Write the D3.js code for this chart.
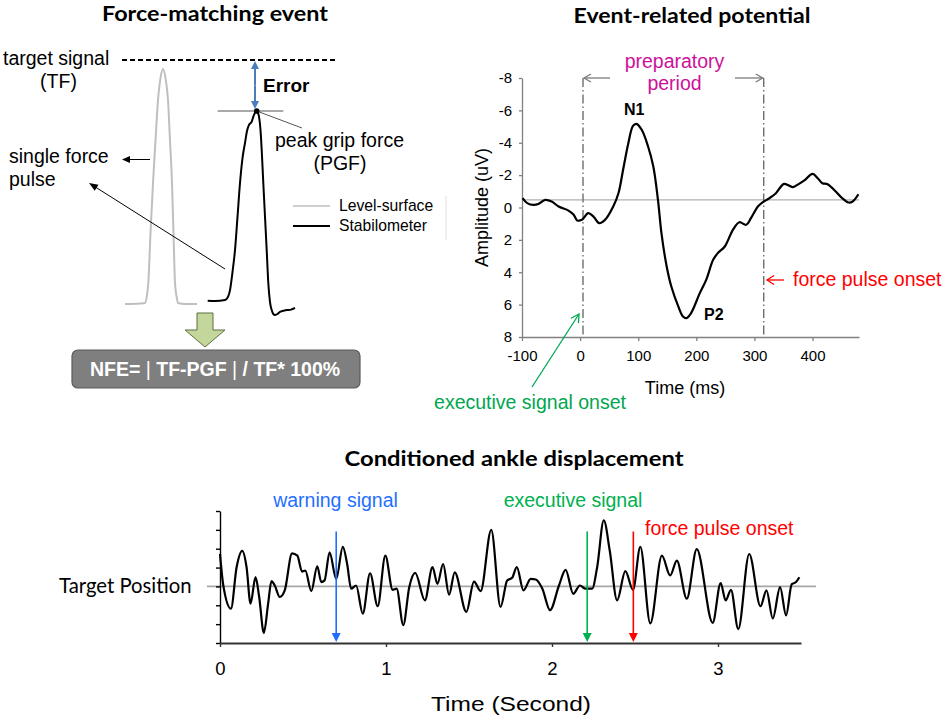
<!DOCTYPE html>
<html>
<head>
<meta charset="utf-8">
<script src="https://cdn.jsdelivr.net/npm/d3@7"></script>
<style>
  body { margin: 0; background: #fff; }
  text { font-family: "Liberation Sans", Arial, sans-serif; }
  .cal { font-family: Lato, "Open Sans", sans-serif; }
</style>
</head>
<body>
<svg width="945" height="723"></svg>
<script>
// force-matching pulses (time units, force in % of target force)
const levelT = [5, 20, 25, 27, 28.3, 30.5, 33, 35.5, 38, 40.5, 43, 45.5, 48, 50, 52, 53.5, 55, 56.5, 58, 65, 77];
const levelF = [0, 0.2, 0.4, 3.7, 8.6, 29, 49.6, 67, 83.6, 92.6, 96.3, 92.6, 83.6, 67, 49.6, 29, 8.6, 3.3, 0.4, 0, 0];
const stabT = [87.7, 95, 105, 108, 110, 112.5, 115, 117.5, 120, 122.5, 125, 127, 129, 131.7, 133.5, 135, 136.7, 138, 139, 140.5,
  141.7, 143.3, 145, 146.7, 148.3, 150, 151.7, 153.3, 155, 157.5, 160, 166.7, 171, 175];
const stabF = [1.35, 1.2, 1.6, 2.9, 5.7, 13.1, 22.1, 35.7, 49.6, 59.8, 66, 70.9, 73.4, 74.7, 77, 78.4, 79.1, 78.3, 76.8, 71.3,
  63.1, 49.6, 35.8, 22.1, 8.6, 0.8, -2.5, -4.1, -4.5, -4.1, -3.2, -2.5, -2.3, -1.6];
const targetForce = 100;
const peakGrip = 79.1;
const peakTime = 136.7;

// event-related potential
const erpTime = [-99, -91, -80, -71, -60, -49, -37, -20, -11, -5, 3, 14, 23, 33, 43, 57, 66, 74, 83, 91,
  97, 106, 117, 126, 134, 140, 149, 157, 169, 177, 183, 191, 206, 217, 229, 237, 249, 263, 274, 286,
  294, 306, 314, 326, 337, 351, 366, 374, 386, 400, 409, 417, 426, 440, 451, 462, 469, 479];
const erpAmp = [-0.58, -0.27, -0.16, -0.23, -0.47, -0.37, -0.06, 0.19, 0.45, 0.8, 0.76, 0.35, 0.56, 0.97, 0.76, -0.06, -0.88, -2.33, -3.97, -5.04,
  -5.17, -4.8, -3.77, -2.53, -0.47, 1.58, 3.64, 4.88, 6.11, 6.73, 6.83, 6.52, 5.29, 4.47, 3.23, 2.82, 2.41, 1.38, 0.91, 1.07,
  0.66, -0.06, -0.31, -0.58, -0.88, -1.46, -1.26, -1.40, -1.67, -2.08, -1.81, -1.50, -1.44, -0.99, -0.58, -0.31, -0.37, -0.82];
const erpXTicks = [-100, 0, 100, 200, 300, 400];
const erpYTicks = [-8, -6, -4, -2, 0, 2, 4, 6, 8];
const erpBaseline = -0.47;
const erpPeriod = [5, 316];

// conditioned ankle displacement
const ankleTime = [0, 0.02, 0.066, 0.1, 0.134, 0.16, 0.184, 0.214, 0.236, 0.264, 0.29, 0.31, 0.33, 0.36, 0.39, 0.434, 0.466, 0.494, 0.514, 0.55,
  0.586, 0.61, 0.63, 0.66, 0.70, 0.74, 0.766, 0.79, 0.82, 0.86, 0.904, 0.95, 0.996, 1.04, 1.064, 1.104, 1.14, 1.176, 1.234, 1.28,
  1.31, 1.344, 1.38, 1.414, 1.484, 1.53, 1.57, 1.634, 1.69, 1.73, 1.76, 1.788, 1.828, 1.872, 1.902, 1.942, 1.988, 2.042, 2.082, 2.128,
  2.168, 2.202, 2.242, 2.272, 2.312, 2.348, 2.392, 2.442, 2.488, 2.532, 2.592, 2.662, 2.712, 2.752, 2.812, 2.872, 2.968, 3.016, 3.046, 3.078,
  3.122, 3.188, 3.256, 3.292, 3.33, 3.374, 3.41, 3.444, 3.47, 3.49];
const ankleValue = [1.72, 0.05, -1.18, 1.02, 1.89, 1.02, -0.91, 0.49, -0.56, -2.46, -0.91, 0.28, 0.05, -0.56, -0.21, 1.75, 1.63, 0.79, 0.84, -0.25,
  1.07, 0.23, 0.32, 1.81, 0.4, 2.1, 1.19, -0.12, 0.05, -1.44, 0.70, -1.05, 1.63, -0.18, -0.12, -2.05, -0.04, 0.72, -0.74, 1.02,
  0.14, 1.19, -0.44, 0.75, -1.35, 0.26, -0.25, 3.0, -1.09, 0.32, 0.46, 1.02, -0.21, 0.4, 0.37, -0.12, -1.26, 0.05, 0.88, -0.39,
  0.05, -0.12, -0.12, 1.02, 3.51, 1.89, -0.74, 0.81, -0.18, 2.1, -1.96, 1.63, 0.58, 1.37, -0.65, 1.98, -1.93, 0.18, -0.74, -0.18,
  -2.26, 1.72, -1.05, -0.21, -1.7, -0.04, -1.53, 0.11, 0.23, 0.49];
const ankleXTicks = [0, 1, 2, 3];
const ankleYTicks = [-3, -2, -1, 0, 1, 2, 3, 4];
const ankleEvents = [
  { t: 0.70, label: 'warning signal', color: '#1f6fff' },
  { t: 2.212, label: 'executive signal', color: '#00b050' },
  { t: 2.49, label: 'force pulse onset', color: '#ff0000' },
];

const svg = d3.select('svg');

// draws an arrowhead at (x2, y2) pointing along the segment
function head(g, x1, y1, x2, y2, len, half, color, open) {
  const a = Math.atan2(y2 - y1, x2 - x1);
  const bx = x2 - len * Math.cos(a), by = y2 - len * Math.sin(a);
  const px = -Math.sin(a) * half, py = Math.cos(a) * half;
  const pts = [[bx + px, by + py], [x2, y2], [bx - px, by - py]];
  if (open) {
    g.append('path').attr('d', d3.line()(pts)).attr('fill', 'none').attr('stroke', color).attr('stroke-width', 1.3);
  } else {
    g.append('path').attr('d', d3.line()(pts) + 'Z').attr('fill', color);
  }
}
function arrow(g, x1, y1, x2, y2, o) {
  const a = Math.atan2(y2 - y1, x2 - x1);
  const cut = o.open ? 0 : o.len * 0.8;
  g.append('line')
    .attr('x1', x1).attr('y1', y1)
    .attr('x2', x2 - cut * Math.cos(a)).attr('y2', y2 - cut * Math.sin(a))
    .attr('stroke', o.color).attr('stroke-width', o.width || 1);
  head(g, x1, y1, x2, y2, o.len, o.half, o.color, o.open);
}
function label(g, x, y, str, size, opts = {}) {
  return g.append('text').attr('x', x).attr('y', y)
    .attr('font-size', size)
    .attr('text-anchor', opts.anchor || 'start')
    .attr('font-weight', opts.bold ? 'bold' : null)
    .attr('fill', opts.color || '#000')
    .classed('cal', !!opts.cal)
    .text(str);
}
function title(g, x, y, str, width) {
  return label(g, x, y, str, 21, { anchor: 'middle', bold: true, cal: true })
    .attr('textLength', width).attr('lengthAdjust', 'spacingAndGlyphs');
}

// ---------------- Force-matching event ----------------
const fm = svg.append('g');
const fx = d3.scaleLinear().domain([0, 200]).range([120, 320]);
const fy = d3.scaleLinear().domain([0, 100]).range([304, 60]);

title(fm, 215, 21, 'Force-matching event', 226);

fm.append('line')
  .attr('x1', fx(2)).attr('x2', fx(218))
  .attr('y1', fy(targetForce)).attr('y2', fy(targetForce))
  .attr('stroke', '#000').attr('stroke-width', 2).attr('stroke-dasharray', '5,3');

const pulseLine = d3.line().x(d => fx(d[0])).y(d => fy(d[1])).curve(d3.curveMonotoneX);
fm.append('path').attr('d', pulseLine(d3.zip(levelT, levelF)))
  .attr('fill', 'none').attr('stroke', '#bfbfbf').attr('stroke-width', 2);
fm.append('path').attr('d', pulseLine(d3.zip(stabT, stabF)))
  .attr('fill', 'none').attr('stroke', '#000').attr('stroke-width', 2);

fm.append('line')
  .attr('x1', fx(97.7)).attr('x2', fx(163.3))
  .attr('y1', fy(peakGrip)).attr('y2', fy(peakGrip))
  .attr('stroke', '#8c8c8c').attr('stroke-width', 1.5);

// error double arrow
const ex = fx(135);
arrow(fm, ex, (fy(targetForce) + fy(peakGrip)) / 2, ex, fy(targetForce) + 1, { color: '#4a7ebb', len: 8, half: 4, width: 2 });
arrow(fm, ex, (fy(targetForce) + fy(peakGrip)) / 2, ex, fy(peakGrip) - 2, { color: '#4a7ebb', len: 8, half: 4, width: 2 });
label(fm, 263, 92, 'Error', 19, { bold: true });

fm.append('line')
  .attr('x1', fx(peakTime)).attr('y1', fy(peakGrip))
  .attr('x2', 302).attr('y2', 128)
  .attr('stroke', '#555').attr('stroke-width', 1);
fm.append('circle').attr('cx', fx(peakTime)).attr('cy', fy(peakGrip)).attr('r', 2.8).attr('fill', '#000');

label(fm, 3, 65, 'target signal', 19.5);
label(fm, 58.5, 88, '(TF)', 19.5, { anchor: 'middle' });
label(fm, 275, 147, 'peak grip force', 19.5);
label(fm, 340, 170, '(PGF)', 19.5, { anchor: 'middle' });
label(fm, 9, 163, 'single force', 19.5);
label(fm, 9, 186, 'pulse', 19.5);

arrow(fm, 150, 159.5, 122, 159.5, { color: '#000', len: 8, half: 3.5, width: 1 });
arrow(fm, 225, 269, 89, 183, { color: '#000', len: 9, half: 3.5, width: 1 });

// legend
fm.append('line').attr('x1', 293).attr('x2', 330).attr('y1', 206).attr('y2', 206)
  .attr('stroke', '#bfbfbf').attr('stroke-width', 1.6);
fm.append('line').attr('x1', 293).attr('x2', 330).attr('y1', 226).attr('y2', 226)
  .attr('stroke', '#000').attr('stroke-width', 1.8);
label(fm, 339, 211, 'Level-surface', 15.7);
label(fm, 339, 231, 'Stabilometer', 15.7);
fm.append('line').attr('x1', 446).attr('x2', 446).attr('y1', 196).attr('y2', 240)
  .attr('stroke', '#e0e0e0').attr('stroke-width', 1);

// block arrow and formula box
fm.append('path')
  .attr('d', 'M197,313 L213,313 L213,330 L225,330 L205,347 L185,330 L197,330 Z')
  .attr('fill', '#c3d69b').attr('stroke', '#5f6f3f').attr('stroke-width', 1);
fm.append('rect').attr('x', 72).attr('y', 350).attr('width', 288).attr('height', 38).attr('rx', 6)
  .attr('fill', '#7f7f7f').attr('stroke', '#5a5a5a').attr('stroke-width', 1.2);
const nfe = label(fm, 215, 376, '', 19.5, { anchor: 'middle', bold: true, color: '#fff' });
['NFE= ', '|', ' TF-PGF ', '|', ' / TF* 100%'].forEach(part => {
  nfe.append('tspan').attr('font-weight', part === '|' ? 'normal' : 'bold').text(part);
});
nfe.attr('xml:space', 'preserve');

// ---------------- Event-related potential ----------------
const erp = svg.append('g');
const xE = d3.scaleLinear().domain([-100, 480]).range([522, 859]);
const yE = d3.scaleLinear().domain([-8, 8]).range([78, 337]);

title(erp, 692, 23, 'Event-related potential', 237);

erp.append('line')
  .attr('x1', xE(-100)).attr('x2', xE(480))
  .attr('y1', yE(erpBaseline)).attr('y2', yE(erpBaseline))
  .attr('stroke', '#b0b0b0').attr('stroke-width', 1.2);

const yAxisE = erp.append('g').attr('transform', `translate(${xE(-100)},0)`)
  .call(d3.axisLeft(yE).tickValues(erpYTicks).tickFormat(d => String(d)).tickSize(3).tickSizeOuter(0).tickPadding(7));
const xAxisE = erp.append('g').attr('transform', `translate(0,${yE(8)})`)
  .call(d3.axisBottom(xE).tickValues(erpXTicks).tickFormat(d => String(d)).tickSize(4).tickSizeOuter(0).tickPadding(9));
[yAxisE, xAxisE].forEach(ax => {
  ax.selectAll('path, line').attr('stroke', '#808080').attr('stroke-width', 1.3);
  ax.selectAll('text').attr('font-size', 15).attr('fill', '#000')
    .attr('font-family', '"Liberation Sans", Arial, sans-serif');
});

erpPeriod.forEach(t => {
  erp.append('line')
    .attr('x1', xE(t)).attr('x2', xE(t))
    .attr('y1', yE(-8)).attr('y2', yE(8))
    .attr('stroke', '#6e6e6e').attr('stroke-width', 1.4)
    .attr('stroke-dasharray', '9,3,1.5,3');
});

const erpLine = d3.line().x(d => xE(d[0])).y(d => yE(d[1])).curve(d3.curveCatmullRom.alpha(0.5));
erp.append('path').attr('d', erpLine(d3.zip(erpTime, erpAmp)))
  .attr('fill', 'none').attr('stroke', '#000').attr('stroke-width', 2.2);

arrow(erp, 610, yE(-8), xE(erpPeriod[0]) + 1, yE(-8), { color: '#7a7a7a', len: 7, half: 4, open: true, width: 1.3 });
arrow(erp, 735, yE(-8), xE(erpPeriod[1]) - 1, yE(-8), { color: '#7a7a7a', len: 7, half: 4, open: true, width: 1.3 });
label(erp, 674.5, 68, 'preparatory', 19.5, { anchor: 'middle', color: '#cc1199' });
label(erp, 674.5, 90, 'period', 19.5, { anchor: 'middle', color: '#cc1199' });

label(erp, 624, 115, 'N1', 16, { bold: true });
label(erp, 704, 320, 'P2', 16, { bold: true });

erp.append('text')
  .attr('transform', `translate(488,${yE(0)}) rotate(-90)`)
  .attr('text-anchor', 'middle').attr('font-size', 18).text('Amplitude (uV)');
label(erp, 685, 394, 'Time (ms)', 18, { anchor: 'middle' });

arrow(erp, 784, 280, 767, 280, { color: '#ff0000', len: 7, half: 4.5, open: true, width: 1.3 });
label(erp, 793, 286, 'force pulse onset', 19.5, { color: '#ff0000' });

arrow(erp, 532, 387, 579, 314, { color: '#00a650', len: 8, half: 4.5, open: true, width: 1.3 });
label(erp, 530, 409, 'executive signal onset', 19.5, { anchor: 'middle', color: '#00a650' });

// ---------------- Conditioned ankle displacement ----------------
const ank = svg.append('g');
const xA = d3.scaleLinear().domain([0, 3.5]).range([220, 801]);
const yA = d3.scaleLinear().domain([-3, 4]).range([643, 511]);

title(ank, 514, 466, 'Conditioned ankle displacement', 339);

ank.append('line')
  .attr('x1', 207).attr('x2', 816)
  .attr('y1', yA(0)).attr('y2', yA(0))
  .attr('stroke', '#a6a6a6').attr('stroke-width', 1.8);

const yAxisA = ank.append('g').attr('transform', `translate(${xA(0)},0)`)
  .call(d3.axisLeft(yA).tickValues(ankleYTicks).tickFormat('').tickSize(4).tickSizeOuter(0));
yAxisA.selectAll('path, line').attr('stroke', '#000').attr('stroke-width', 1.4);

const xAxisA = ank.append('g').attr('transform', `translate(0,${yA(-3)})`)
  .call(d3.axisBottom(xA).tickValues(ankleXTicks).tickFormat(d => String(d)).tickSize(4).tickSizeOuter(0).tickPadding(15));
xAxisA.selectAll('path').attr('stroke', '#333').attr('stroke-width', 2);
xAxisA.selectAll('line').attr('stroke', '#333').attr('stroke-width', 1.4);
xAxisA.selectAll('text').attr('font-size', 18.5).attr('fill', '#000')
  .attr('font-family', '"Liberation Sans", Arial, sans-serif');

const ankLine = d3.line().x(d => xA(d[0])).y(d => yA(d[1])).curve(d3.curveMonotoneX);
ank.append('path').attr('d', ankLine(d3.zip(ankleTime, ankleValue)))
  .attr('fill', 'none').attr('stroke', '#000').attr('stroke-width', 2.2);

ankleEvents.forEach(ev => {
  arrow(ank, xA(ev.t), 531.5, xA(ev.t), yA(-3) - 1, { color: ev.color, len: 9, half: 4.5, width: 1.6 });
});
label(ank, 335.5, 507, ankleEvents[0].label, 19.5, { anchor: 'middle', color: ankleEvents[0].color });
label(ank, 573, 507, ankleEvents[1].label, 19.5, { anchor: 'middle', color: ankleEvents[1].color });
label(ank, 645, 535, ankleEvents[2].label, 19.5, { color: ankleEvents[2].color });

label(ank, 59, 593, 'Target Position', 20.3, { cal: true });
label(ank, 511, 711, 'Time (Second)', 21, { anchor: 'middle' }).attr('textLength', 160).attr('lengthAdjust', 'spacingAndGlyphs');
</script>
</body>
</html>
